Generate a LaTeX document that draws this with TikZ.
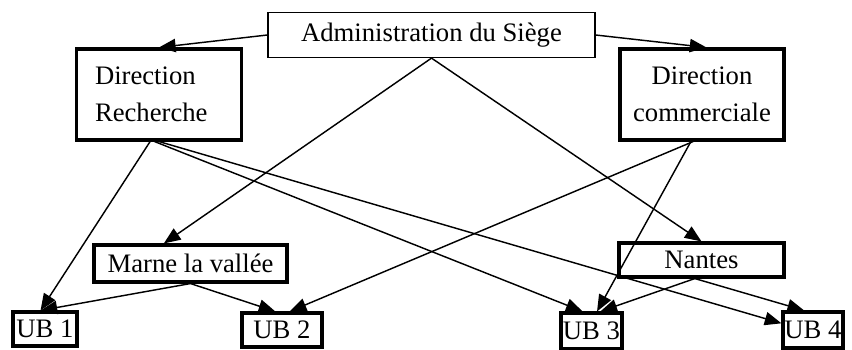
\documentclass[tikz,border=0pt]{standalone}
\usepackage{fontspec}
\setmainfont{Liberation Serif}
\usetikzlibrary{arrows.meta, positioning, calc}

\begin{document}
\begin{tikzpicture}[x=0.45pt, y=-0.45pt,
    box/.style={draw, line width=1.4pt, inner sep=0pt, align=center,
        font=\fontsize{12}{16.6}\selectfont},
    ub/.style={box, minimum height=34*0.45pt},
    arr/.style={-{Triangle[length=7.5pt,width=6pt]}, line width=0.65pt}]
    \useasboundingbox (0,0) rectangle (852,350);

    % Siege
    \node[box, line width=0.55pt, minimum width=327*0.45pt, minimum height=45*0.45pt] (admin) at (431.5,35) {Administration du Siège};

    % Directions
    \node[box, align=left, inner xsep=8.5pt, text width=128*0.45pt, minimum height=91*0.45pt] (rech) at (159,94.5) {Direction\\Recherche};
    \node[box, minimum width=164*0.45pt, minimum height=91*0.45pt] (comm) at (702,94.5) {Direction\\commerciale};

    % Sites
    \node[box, minimum width=193*0.45pt, minimum height=37*0.45pt] (marne) at (190.5,263.5) {Marne la vallée};
    \node[box, minimum width=165*0.45pt, minimum height=34*0.45pt] (nantes) at (701.5,260) {Nantes};

    % Unites de base
    \node[ub, minimum width=64*0.45pt] (ub1) at (45,329) {UB 1};
    \node[ub, minimum width=80*0.45pt] (ub2) at (282,330) {UB 2};
    \node[ub, minimum width=61*0.45pt, minimum height=36*0.45pt] (ub3) at (591.5,331) {UB 3};
    \node[ub, minimum width=60*0.45pt, minimum height=36*0.45pt] (ub4) at (813,330) {UB 4};

    % Siege vers directions et sites
    \draw[arr] (admin.west) -- (rech.north);
    \draw[arr] (admin.east) -- ([xshift=2pt]comm.north);
    \draw[arr] (admin.south) -- ([xshift=-12pt]marne.north);
    \draw[arr] (admin.south) -- (nantes.north);

    % Direction Recherche
    \draw[arr] ([xshift=-4pt]rech.south) -- ([xshift=-2pt]ub1.north);
    \draw[arr] ([xshift=-2pt]rech.south) -- ([xshift=-4pt]ub3.north);
    \draw[arr] (rech.south) -- ([yshift=3pt]ub4.west);

    % Direction commerciale
    \draw[arr] ([xshift=-4pt]comm.south) -- ([xshift=3.5pt]ub2.north);
    \draw[arr] ([xshift=-5pt]comm.south) -- ([xshift=2.5pt]ub3.north);

    % Sites vers UB
    \draw[arr] (marne.south) -- ([xshift=-2pt]ub1.north);
    \draw[arr] (marne.south) -- ([xshift=-3pt]ub2.north);
    \draw[arr] ([xshift=-3pt]nantes.south) -- ([xshift=4pt]ub3.north);
    \draw[arr] ([xshift=-3pt]nantes.south) -- ([xshift=-4pt]ub4.north);
\end{tikzpicture}
\end{document}
